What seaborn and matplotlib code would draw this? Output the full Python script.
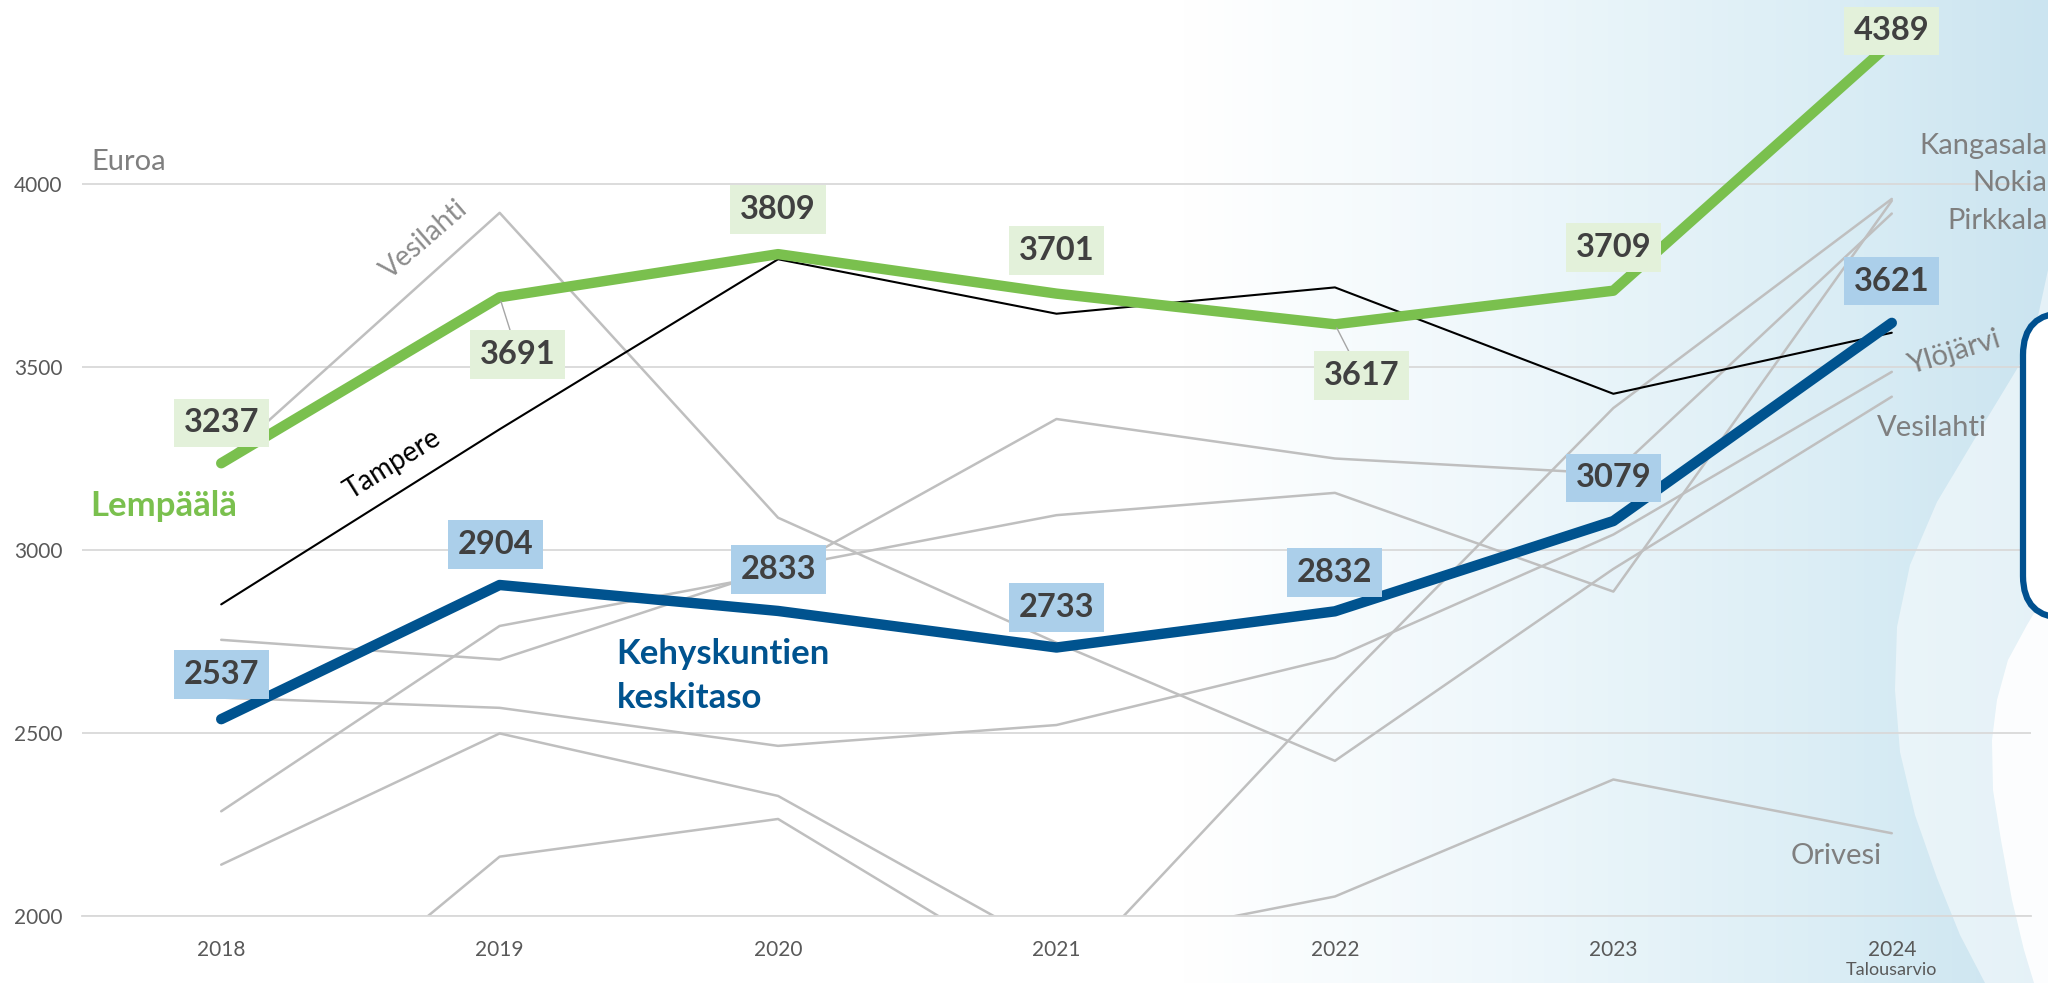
import matplotlib.pyplot as plt
import seaborn as sns
import pandas as pd
import numpy as np
from matplotlib.patches import FancyBboxPatch, Polygon
from matplotlib.colors import LinearSegmentedColormap

# values (euros per resident)
years = ['2018', '2019', '2020', '2021', '2022', '2023', '2024']
lempaala = [3237, 3691, 3809, 3701, 3617, 3709, 4389]
kehys = [2537, 2904, 2833, 2733, 2832, 3079, 3621]
tampere = [2851, 3330, 3795, 3646, 3718, 3427, 3594]
kangasala = [1530, 2161, 2264, 1803, 2614, 3388, 3960]
nokia = [2754, 2700, 2950, 3095, 3156, 2886, 3955]
pirkkala = [2285, 2792, 2935, 3358, 3250, 3208, 3920]
ylojarvi = [2596, 2568, 2464, 2521, 2705, 3042, 3487]
vesilahti = [3237, 3922, 3088, 2746, 2423, 2948, 3419]
orivesi = [2139, 2498, 2327, 1903, 2052, 2372, 2225]

grey_names = ['Kangasala', 'Nokia', 'Pirkkala', 'Ylöjärvi', 'Vesilahti', 'Orivesi']
grey_values = [kangasala, nokia, pirkkala, ylojarvi, vesilahti, orivesi]

# label offsets (points) for the value boxes
lempaala_offsets = [(0, 29), (13, -41), (0, 32), (0, 31), (19, -37), (0, 31), (0, 8)]
kehys_offsets = [(0, 32), (-3, 29), (0, 30), (0, 29), (0, 28), (0, 31), (0, 30)]

GREEN = '#7AC04E'
BLUE = '#00538F'
GREY = '#BFBFBF'
GRID = '#D9D9D9'
LABEL_GREY = '#7F7F7F'


def long_df(names, values):
    rows = []
    for name, vals in zip(names, values):
        for i, v in enumerate(vals):
            rows.append({'kunta': name, 'pos': i, 'vuosi': years[i], 'euroa': v})
    return pd.DataFrame(rows)


def value_tags(ax, vals, offsets, fc, leaders=()):
    for i, (v, off) in enumerate(zip(vals, offsets)):
        arrow = None
        if i in leaders:
            arrow = dict(arrowstyle='-', color='#A6A6A6', lw=1, shrinkA=0, shrinkB=3)
        ax.annotate(str(v), (i, v), xytext=off, textcoords='offset points',
                    ha='center', va='center', fontsize=23.5, fontweight='bold',
                    color='#404040', zorder=6, arrowprops=arrow,
                    bbox=dict(boxstyle='square,pad=0.3', fc=fc, ec='none'))


def main():
    sns.set_style('white')
    plt.rcParams['font.family'] = ['Lato', 'DejaVu Sans']

    fig = plt.figure(figsize=(20.48, 9.83), dpi=100)

    # slide background: gradient and wave shapes, in pixel coordinates
    bg = fig.add_axes([0, 0, 1, 1], zorder=0)
    bg.set_xlim(0, 2048)
    bg.set_ylim(983, 0)
    bg.axis('off')
    cmap = LinearSegmentedColormap.from_list(
        'bg', [(0, '#FFFFFF'), (0.58, '#FFFFFF'), (0.74, '#EEF7FB'),
               (0.9, '#DAEDF5'), (1, '#CBE4F0')])
    bg.imshow(np.linspace(0, 1, 512)[None, :], cmap=cmap, aspect='auto',
              extent=(0, 2048, 983, 0))
    light = [(2048, 270), (2035, 330), (2020, 364), (1980, 430), (1937, 502),
             (1910, 565), (1897, 627), (1895, 690), (1900, 752), (1915, 815),
             (1937, 878), (1960, 935), (1985, 983), (2048, 983)]
    white = [(2048, 590), (2027, 625), (2008, 660), (1997, 700), (1992, 740),
             (1993, 790), (2001, 840), (2012, 900), (2024, 950), (2034, 983),
             (2048, 983)]
    bg.add_patch(Polygon(light, closed=True, fc='white', ec='none', alpha=0.5))
    bg.add_patch(Polygon(white, closed=True, fc='white', ec='none', alpha=0.9))

    ax = fig.add_axes([82 / 2048, 67.5 / 983, 1949 / 2048, 914 / 983], zorder=1)
    ax.set_facecolor('none')

    grey_df = long_df(grey_names, grey_values)
    sns.lineplot(data=grey_df, x='pos', y='euroa', units='kunta', estimator=None,
                 color=GREY, linewidth=1.8, legend=False, ax=ax, zorder=2)
    sns.lineplot(data=long_df(['Tampere'], [tampere]), x='pos', y='euroa',
                 color='black', linewidth=1.5, legend=False, ax=ax, zorder=3)
    sns.lineplot(data=long_df(['Kehyskunnat'], [kehys]), x='pos', y='euroa',
                 color=BLUE, linewidth=7.5, solid_capstyle='round',
                 legend=False, ax=ax, zorder=4)
    sns.lineplot(data=long_df(['Lempäälä'], [lempaala]), x='pos', y='euroa',
                 color=GREEN, linewidth=7.5, solid_capstyle='round',
                 legend=False, ax=ax, zorder=4)

    value_tags(ax, lempaala, lempaala_offsets, '#E3F1DA', leaders=(1, 4))
    value_tags(ax, kehys, kehys_offsets, '#ABCFEA')

    ax.set_xlim(-0.5, 6.5)
    ax.set_ylim(2000, 4500)
    ax.set_yticks([2000, 2500, 3000, 3500, 4000])
    ax.set_xticks(range(len(years)))
    ax.set_xticklabels(years)
    ax.set_xticks(np.arange(-0.5, len(years), 1), minor=True)
    ax.tick_params(axis='x', which='major', length=0, pad=18, labelsize=15,
                   labelcolor='#595959')
    ax.tick_params(axis='x', which='minor', length=8, width=1.3, color=GRID,
                   direction='out')
    ax.tick_params(axis='y', length=0, pad=14, labelsize=15, labelcolor='#595959')
    ax.yaxis.grid(True, color=GRID, lw=1.3)
    ax.xaxis.grid(False)
    ax.set_axisbelow(True)
    for side in ['left', 'right', 'top']:
        ax.spines[side].set_visible(False)
    ax.spines['bottom'].set_color(GRID)
    ax.spines['bottom'].set_linewidth(1.3)
    ax.set_xlabel('')
    ax.set_ylabel('')

    ax.text(-0.465, 4061, 'Euroa', fontsize=21, color=LABEL_GREY, ha='left', va='center')
    ax.text(-0.47, 3120, 'Lempäälä', fontsize=25, fontweight='bold', color=GREEN,
            ha='left', va='center')
    ax.text(1.42, 2715, 'Kehyskuntien', fontsize=25, fontweight='bold', color=BLUE,
            ha='left', va='center')
    ax.text(1.42, 2595, 'keskitaso', fontsize=25, fontweight='bold', color=BLUE,
            ha='left', va='center')
    ax.text(0.615, 3235, 'Tampere', fontsize=20, color='black', rotation=32,
            ha='center', va='center', rotation_mode='anchor')
    ax.text(0.73, 3850, 'Vesilahti', fontsize=20, color='#8C8C8C', rotation=41,
            ha='center', va='center', rotation_mode='anchor')

    ax.text(6.56, 4105, 'Kangasala', fontsize=21, color=LABEL_GREY, ha='right',
            va='center', clip_on=False)
    ax.text(6.56, 4004, 'Nokia', fontsize=21, color=LABEL_GREY, ha='right',
            va='center', clip_on=False)
    ax.text(6.56, 3900, 'Pirkkala', fontsize=21, color=LABEL_GREY, ha='right',
            va='center', clip_on=False)
    ax.text(6.222, 3541, 'Ylöjärvi', fontsize=21, color=LABEL_GREY, rotation=17,
            ha='center', va='center', rotation_mode='anchor')
    ax.text(6.143, 3333, 'Vesilahti', fontsize=21, color=LABEL_GREY,
            ha='center', va='center')
    ax.text(5.80, 2163, 'Orivesi', fontsize=21, color=LABEL_GREY,
            ha='center', va='center')
    ax.text(6, 1851, 'Talousarvio', fontsize=13, color='#595959', ha='center',
            va='center', clip_on=False)

    # rounded info box peeking in from the right edge
    box = FancyBboxPatch((2023, 313), 120, 305,
                         boxstyle='round,pad=0,rounding_size=42',
                         fc='white', ec='#00508F', lw=4.5,
                         transform=bg.transData, zorder=5)
    fig.add_artist(box)

    fig.savefig('out.png', dpi=100)


if __name__ == '__main__':
    main()
